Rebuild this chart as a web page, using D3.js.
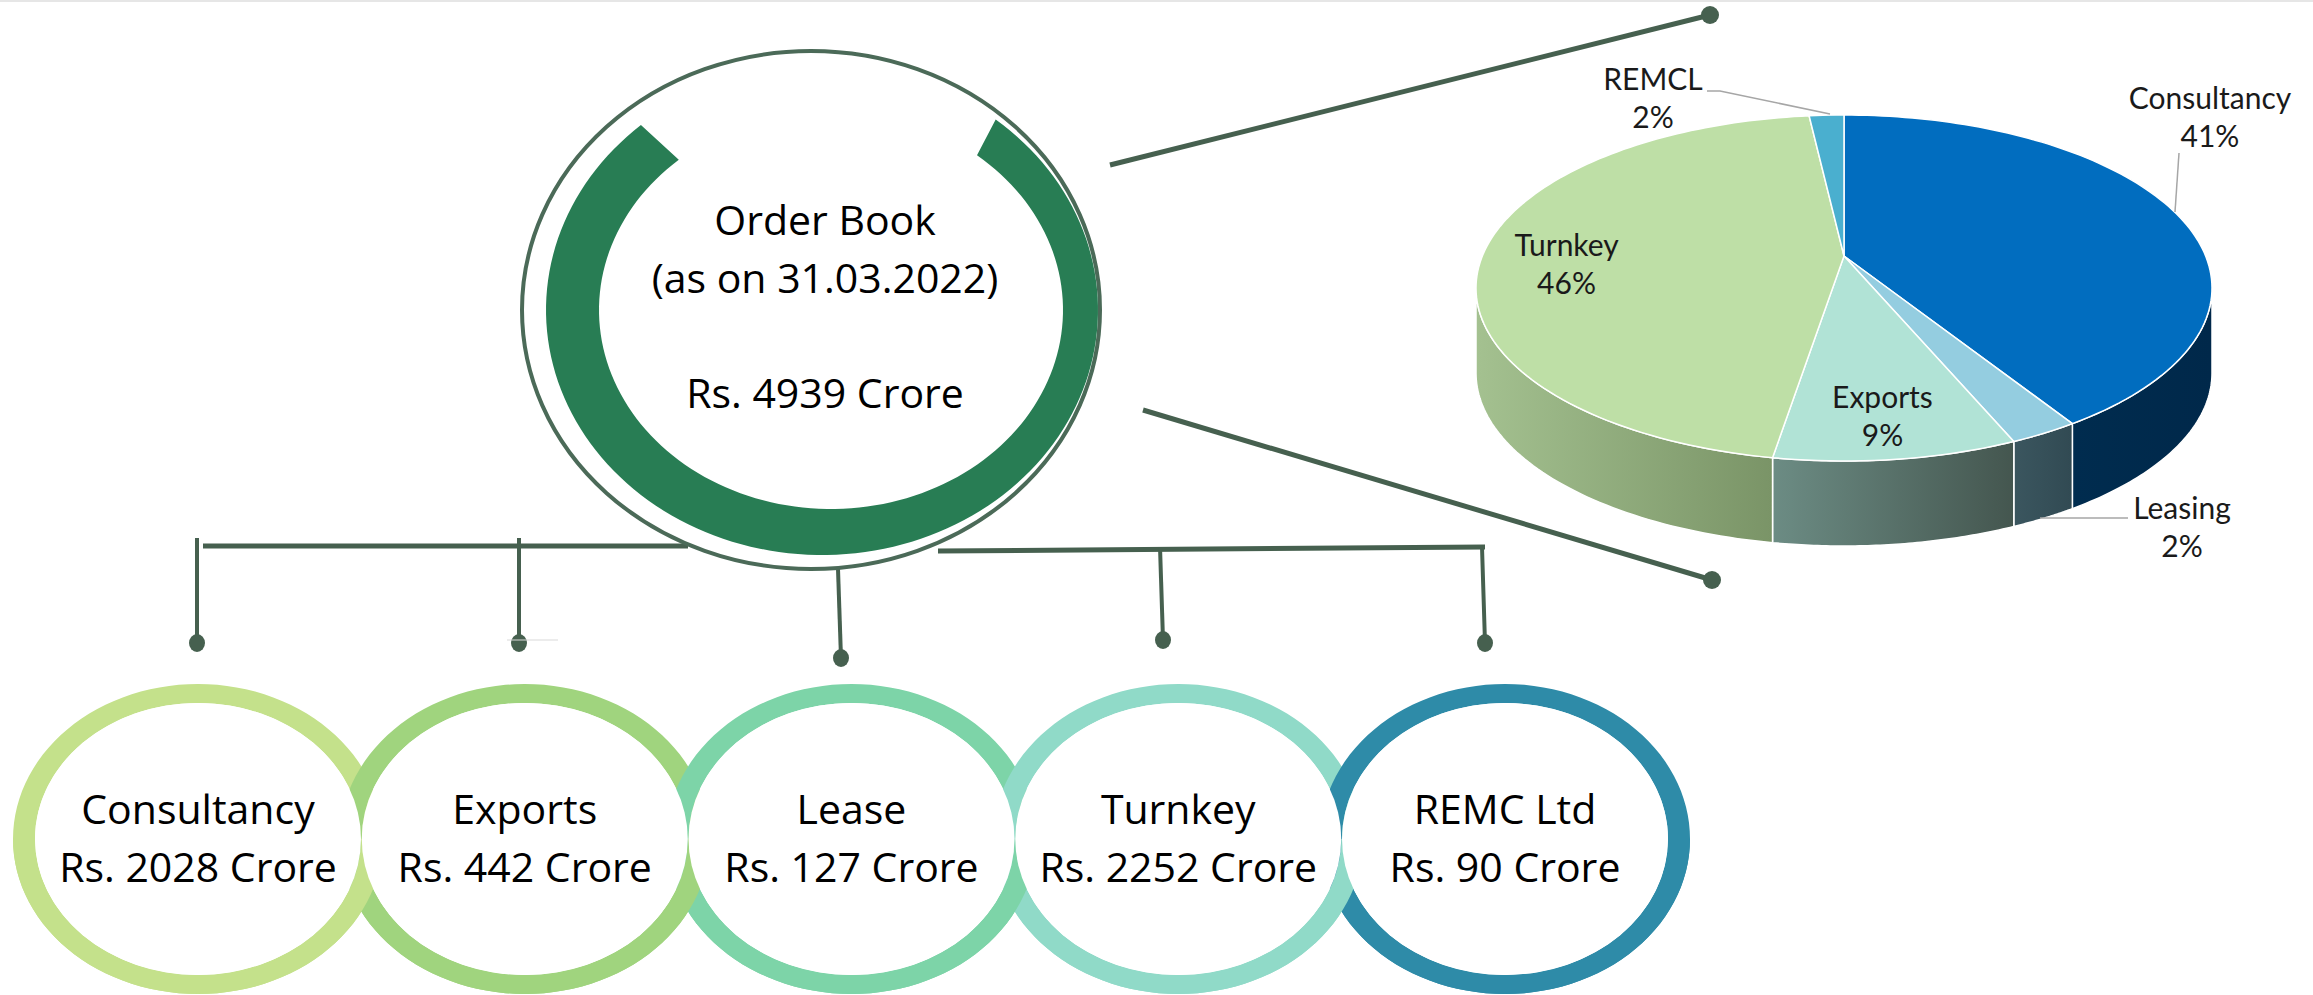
<!DOCTYPE html>
<html><head><meta charset="utf-8">
<script src="https://cdn.jsdelivr.net/npm/d3@7"></script>
<style>html,body{margin:0;padding:0;background:#fff;overflow:hidden}</style>
</head><body><svg id="c" width="2313" height="995"></svg>
<script>
// ---------- data ----------
const categories = ["Consultancy", "Exports", "Lease", "Turnkey", "REMC Ltd"];
const amounts = [2028, 442, 127, 2252, 90];            // Rs. Crore
const centerTitle = ["Order Book", "(as on 31.03.2022)", "Rs. 4939 Crore"];
const ringColors = ["#c4e18b", "#a0d47e", "#7dd4a8", "#90dac8", "#2e8ba8"];

const pieLabels = ["Consultancy", "Leasing", "Exports", "Turnkey", "REMCL"];
const pieSource = ["Consultancy", "Lease", "Exports", "Turnkey", "REMC Ltd"]; // pie slice -> category
const piePercentLabels = ["41%", "2%", "9%", "46%", "2%"];
const pieTopColors = ["#016dbf", "#94cde0", "#b1e3d6", "#bedfa6", "#4aafcf"];
const pieWallColors = [["#002c4f", "#00284a"], ["#3b565f", "#314a53"], ["#6c8c84", "#44564f"], ["#a4c190", "#7a9467"], ["#3a8aa5", "#2e7088"]];

// ---------- setup ----------
const W = 2313, H = 995;
const svg = d3.select("#c");
svg.append("rect").attr("width", W).attr("height", H).attr("fill", "#fff");
svg.append("line").attr("x1", 0).attr("x2", W).attr("y1", 1).attr("y2", 1)
  .attr("stroke", "#e6e6e6").attr("stroke-width", 2);
const defs = svg.append("defs");
const lineColor = "#46604f";
const FONT = "'Open Sans', sans-serif";
const PFONT = "Lato, 'Open Sans', sans-serif";

function ellipsePts(cx, cy, rx, ry, a0, a1, n) {
  return d3.range(n + 1).map(i => { const t = a0 + (a1 - a0) * i / n; return [cx + rx * Math.sin(t), cy - ry * Math.cos(t)]; });
}

// ---------- connectors ----------
const xRing = d3.scalePoint().domain(categories).range([198, 1505]);
const xDrop = d3.scalePoint().domain(categories).range([197, 1485]);
const gConn = svg.append("g");
gConn.append("line").attr("x1", xDrop(categories[0]) + 6).attr("y1", 546).attr("x2", 688).attr("y2", 546)
  .attr("stroke", lineColor).attr("stroke-width", 5);
gConn.append("line").attr("x1", 938).attr("y1", 551).attr("x2", xDrop(categories[4])).attr("y2", 547)
  .attr("stroke", lineColor).attr("stroke-width", 5);
categories.forEach((c, i) => {
  const x = xDrop(c);
  const y0 = i < 2 ? 538 : (i === 2 ? 569 : 547);
  const y1 = i === 2 ? 658 : (i === 3 ? 640 : 643);
  const dx = i >= 2 ? 3 : 0;
  gConn.append("line").attr("x1", x - dx).attr("y1", y0).attr("x2", x).attr("y2", y1)
    .attr("stroke", lineColor).attr("stroke-width", 4);
  gConn.append("ellipse").attr("cx", x).attr("cy", y1).attr("rx", 8).attr("ry", 9).attr("fill", lineColor);
});
gConn.append("line").attr("x1", 507).attr("y1", 640).attr("x2", 558).attr("y2", 640)
  .attr("stroke", "#d9d9d9").attr("stroke-width", 1);
[[1110, 165, 1710, 15], [1143, 410, 1712, 580]].forEach(s => {
  gConn.append("line").attr("x1", s[0]).attr("y1", s[1]).attr("x2", s[2]).attr("y2", s[3])
    .attr("stroke", lineColor).attr("stroke-width", 5);
  gConn.append("circle").attr("cx", s[2]).attr("cy", s[3]).attr("r", 9).attr("fill", lineColor);
});

// ---------- big order book circle ----------
const gBig = svg.append("g");
gBig.append("ellipse").attr("cx", 811).attr("cy", 310).attr("rx", 289).attr("ry", 259)
  .attr("fill", "#fff").attr("stroke", "#4b6a58").attr("stroke-width", 4);
(function () {
  const a0 = 39 * Math.PI / 180, a1 = 319 * Math.PI / 180, n = 140;
  const outer = ellipsePts(822, 310, 276, 245, a0, a1, n);
  const inner = ellipsePts(831, 310, 232, 199, a1, a0, n);
  gBig.append("path").attr("d", d3.line()(outer.concat(inner)) + "Z").attr("fill", "#287d54");
})();
const bigBase = [235, 293, 408];
centerTitle.forEach((t, i) => {
  gBig.append("text").attr("x", 825).attr("y", bigBase[i]).attr("text-anchor", "middle")
    .attr("font-family", FONT).attr("font-size", 41).attr("fill", "#000").text(t);
});

// ---------- bottom rings (interlocked) ----------
const ringCy = 839, inRx = 163, inRy = 136, bandX = 22, bandY = 19;
const gRings = svg.append("g");
function bandPath(cx) {
  const o = ellipsePts(cx, ringCy, inRx + bandX, inRy + bandY, 0, 2 * Math.PI, 120);
  const n = ellipsePts(cx, ringCy, inRx, inRy, 2 * Math.PI, 0, 120);
  return d3.line()(o) + "Z" + d3.line()(n) + "Z";
}
defs.append("clipPath").attr("id", "lowerHalf").append("rect")
  .attr("x", 0).attr("y", ringCy).attr("width", W).attr("height", H - ringCy);
categories.forEach((c, i) => {
  gRings.append("path").attr("d", bandPath(xRing(c))).attr("fill", ringColors[i]).attr("fill-rule", "evenodd");
});
categories.slice().reverse().forEach((c) => {
  const i = categories.indexOf(c);
  gRings.append("path").attr("d", bandPath(xRing(c))).attr("fill", ringColors[i])
    .attr("fill-rule", "evenodd").attr("clip-path", "url(#lowerHalf)");
});
categories.forEach((c) => {
  gRings.append("ellipse").attr("cx", xRing(c)).attr("cy", ringCy)
    .attr("rx", inRx).attr("ry", inRy).attr("fill", "#fff");
});
categories.forEach((c, i) => {
  gRings.append("text").attr("x", xRing(c)).attr("y", ringCy - 15).attr("text-anchor", "middle")
    .attr("font-family", FONT).attr("font-size", 41).attr("fill", "#000").text(c);
  gRings.append("text").attr("x", xRing(c)).attr("y", ringCy + 43).attr("text-anchor", "middle")
    .attr("font-family", FONT).attr("font-size", 41).attr("fill", "#000")
    .text("Rs. " + d3.format("d")(amounts[i]) + " Crore");
});

// ---------- 3D pie ----------
const P = { cx: 1844, cy: 288, rx: 368, ry: 173, d: 0.185, depth: 85 };
const kx = Math.sqrt(1 - P.d * P.d);
function proj(theta, r = 1, dz = 0) {
  const x = r * Math.sin(theta), y = -r * Math.cos(theta);
  const den = 1 - P.d * y;
  return [P.cx + P.rx * x * kx / den, P.cy + P.ry * (y - P.d) / den + dz];
}
function rim(a, b, n, dz) { return d3.range(n + 1).map(i => proj(a + (b - a) * i / n, 1, dz)); }
const pieVals = pieSource.map(s => amounts[categories.indexOf(s)]);
const arcs = d3.pie().sort(null).startAngle(0).endAngle(2 * Math.PI)(pieVals);
const gPie = svg.append("g");
const tL = Math.acos(-P.d), tR = 2 * Math.PI - Math.acos(-P.d);
arcs.forEach((a, i) => {
  const s = Math.max(a.startAngle, tL), e = Math.min(a.endAngle, tR);
  if (s >= e) return;
  const id = "wg" + i;
  const g = defs.append("linearGradient").attr("id", id).attr("x1", 0).attr("x2", 1).attr("y1", 0).attr("y2", 0);
  g.append("stop").attr("offset", 0).attr("stop-color", pieWallColors[i][0]);
  g.append("stop").attr("offset", 1).attr("stop-color", pieWallColors[i][1]);
  const pts = rim(s, e, 60, 0).concat(rim(s, e, 60, P.depth).reverse());
  gPie.append("path").attr("d", d3.line()(pts) + "Z").attr("fill", `url(#${id})`)
    .attr("stroke", "#fff").attr("stroke-width", 1.5).attr("stroke-linejoin", "round");
});
const apex = proj(0, 0, 0);
arcs.forEach((a, i) => {
  const n = Math.max(4, Math.round((a.endAngle - a.startAngle) * 40));
  const pts = [apex].concat(rim(a.startAngle, a.endAngle, n, 0));
  gPie.append("path").attr("d", d3.line()(pts) + "Z").attr("fill", pieTopColors[i])
    .attr("stroke", "#fff").attr("stroke-width", 1.5).attr("stroke-linejoin", "round");
});
const leaders = [[[2179, 153], [2175, 212]], [[2040, 518], [2128, 518]], [[1707, 91], [1720, 91], [1830, 114]]];
leaders.forEach(l => gPie.append("path").attr("d", d3.line()(l)).attr("fill", "none")
  .attr("stroke", "#a6a6a6").attr("stroke-width", 1.5));
const outsideAnchor = { "Consultancy": [2210, 109], "Leasing": [2182, 519], "REMCL": [1653, 90] };
arcs.forEach((a, i) => {
  const name = pieLabels[i];
  let x, y;
  if (outsideAnchor[name]) { [x, y] = outsideAnchor[name]; }
  else { const p = proj((a.startAngle + a.endAngle) / 2, 0.77, 0); x = p[0]; y = p[1] + 3; }
  const t = gPie.append("text").attr("text-anchor", "middle").attr("font-family", PFONT)
    .attr("font-size", 30).attr("fill", "#1a1a1a");
  t.append("tspan").attr("x", x).attr("y", y).text(name);
  t.append("tspan").attr("x", x).attr("y", y + 38).text(piePercentLabels[i]);
});
</script></body></html>
